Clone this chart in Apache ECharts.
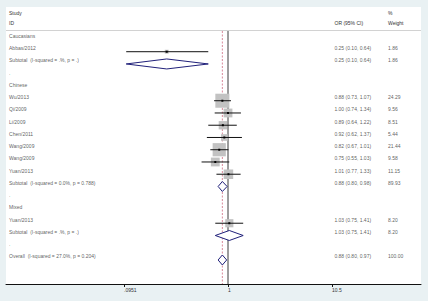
<!DOCTYPE html>
<html>
<head>
<meta charset="utf-8">
<script src="https://cdn.jsdelivr.net/npm/echarts@6/dist/echarts.min.js"></script>
<style>
  html, body { margin: 0; padding: 0; background: #e9f1f3; }
  #chart { width: 428px; height: 301px; }
</style>
</head>
<body>
<div id="chart"></div>
<script>
  // rows of the forest plot, top to bottom
  const studyLabels = [
    'Caucasians', 'Abbas/2012', 'Subtotal  (I-squared = .%, p = .)', '.',
    'Chinese', 'Wu/2013', 'Qi/2009', 'Li/2009', 'Chen/2011', 'Wang/2009', 'Wang/2009', 'Yuan/2013',
    'Subtotal  (I-squared = 0.0%, p = 0.788)', '.',
    'Mixed', 'Yuan/2013', 'Subtotal  (I-squared = .%, p = .)', '.',
    'Overall  (I-squared = 27.0%, p = 0.204)'
  ];
  const rowKinds = [
    'group', 'study', 'pooled', 'blank',
    'group', 'study', 'study', 'study', 'study', 'study', 'study', 'study', 'pooled', 'blank',
    'group', 'study', 'pooled', 'blank',
    'pooled'
  ];
  const orValues = [null, 0.25, 0.25, null, null, 0.88, 1.00, 0.89, 0.92, 0.82, 0.75, 1.01, 0.88, null, null, 1.03, 1.03, null, 0.88];
  const ciLower  = [null, 0.10, 0.10, null, null, 0.73, 0.74, 0.64, 0.62, 0.67, 0.55, 0.77, 0.80, null, null, 0.75, 0.75, null, 0.80];
  const ciUpper  = [null, 0.64, 0.64, null, null, 1.07, 1.34, 1.22, 1.37, 1.01, 1.03, 1.33, 0.98, null, null, 1.41, 1.41, null, 0.97];
  const weights  = [null, 1.86, 1.86, null, null, 24.29, 9.56, 8.51, 5.44, 21.44, 9.58, 11.15, 89.93, null, null, 8.20, 8.20, null, 100.00];
  const tickValues = [0.0951, 1, 10.5];
  const tickLabels = ['.0951', '1', '10.5'];

  const FONT = 'Liberation Sans';
  const lg = Math.log10;
  const overallOR = orValues[orValues.length - 1];

  // x is in log10(OR) units, y is the row index
  const xMin = -2.181, xMax = 1.896;
  const yMin = -2.65, yMax = 19.96;
  const lineTop = -0.69;
  const colLabel = lg(0.00706), colOR = lg(11.1), colWeight = lg(37.3);

  const studyData = [], pooledData = [], textData = [];
  studyLabels.forEach(function (name, i) {
    textData.push([colLabel, i, name]);
    if (orValues[i] == null) return;
    const row = [lg(orValues[i]), i, lg(ciLower[i]), lg(ciUpper[i]), weights[i]];
    if (rowKinds[i] === 'study') studyData.push(row); else pooledData.push(row);
    textData.push([colOR, i, orValues[i].toFixed(2) + ' (' + ciLower[i].toFixed(2) + ', ' + ciUpper[i].toFixed(2) + ')']);
    textData.push([colWeight, i, weights[i].toFixed(2)]);
  });

  const chart = echarts.init(document.getElementById('chart'), null, {renderer: 'svg'});
  chart.setOption({
    animation: false,
    backgroundColor: '#e9f1f3',
    grid: {left: 6, right: 7, top: 7, bottom: 17, show: true, backgroundColor: '#fff', borderWidth: 0},
    xAxis: {
      type: 'value', min: xMin, max: xMax,
      splitLine: {show: false},
      axisLine: {onZero: false, lineStyle: {color: '#111', width: 1}},
      axisTick: {customValues: tickValues.map(lg), length: 3, lineStyle: {color: '#111'}},
      axisLabel: {
        customValues: tickValues.map(lg), fontSize: 5, fontFamily: FONT, color: '#333', margin: 3, align: 'left',
        formatter: function (v) {
          const i = tickValues.findIndex(function (t) { return Math.abs(lg(t) - v) < 1e-6; });
          return i >= 0 ? tickLabels[i] : '';
        }
      }
    },
    yAxis: {type: 'value', show: false, inverse: true, min: yMin, max: yMax},
    graphic: [
      {type: 'line', shape: {x1: 6, y1: 30.5, x2: 421, y2: 30.5}, style: {stroke: '#d2d2d2', lineWidth: 1}},
      {type: 'text', x: 9, y: 13.3, style: {text: 'Study', fontSize: 5, fontFamily: FONT, fill: '#333', verticalAlign: 'middle'}},
      {type: 'text', x: 9, y: 22.7, style: {text: 'ID', fontSize: 5, fontFamily: FONT, fill: '#333', verticalAlign: 'middle'}},
      {type: 'text', x: 334.5, y: 22.7, style: {text: 'OR (95% CI)', fontSize: 5, fontFamily: FONT, fill: '#333', verticalAlign: 'middle'}},
      {type: 'text', x: 388, y: 13.3, style: {text: '%', fontSize: 5, fontFamily: FONT, fill: '#333', verticalAlign: 'middle'}},
      {type: 'text', x: 388, y: 22.7, style: {text: 'Weight', fontSize: 5, fontFamily: FONT, fill: '#333', verticalAlign: 'middle'}}
    ],
    series: [
      {
        // line of no effect
        type: 'line', z: 1, symbol: 'none', silent: true,
        data: [[0, lineTop], [0, yMax]],
        lineStyle: {color: '#3a3a3a', width: 1}
      },
      {
        // overall estimate
        type: 'line', z: 1, symbol: 'none', silent: true,
        data: [[lg(overallOR), lineTop], [lg(overallOR), yMax]],
        lineStyle: {color: '#d98a9a', width: 1, type: [2, 1.5]}
      },
      {
        type: 'custom', z: 3,
        data: studyData,
        encode: {x: 0, y: 1},
        renderItem: function (params, api) {
          const c = api.coord([api.value(0), api.value(1)]);
          const l = api.coord([api.value(2), api.value(1)]);
          const h = api.coord([api.value(3), api.value(1)]);
          const s = 2.85 * Math.sqrt(api.value(4));
          return {type: 'group', children: [
            {type: 'rect', shape: {x: c[0] - s / 2, y: c[1] - s / 2, width: s, height: s}, style: {fill: '#c2c2c2'}},
            {type: 'line', shape: {x1: l[0], y1: c[1], x2: h[0], y2: c[1]}, style: {stroke: '#111', lineWidth: 1}},
            {type: 'rect', shape: {x: c[0] - 1, y: c[1] - 1, width: 2, height: 2}, style: {fill: '#000'}}
          ]};
        }
      },
      {
        type: 'custom', z: 3,
        data: pooledData,
        encode: {x: 0, y: 1},
        renderItem: function (params, api) {
          const c = api.coord([api.value(0), api.value(1)]);
          const l = api.coord([api.value(2), api.value(1)]);
          const h = api.coord([api.value(3), api.value(1)]);
          return {type: 'polygon', shape: {points: [[l[0], c[1]], [c[0], c[1] - 5], [h[0], c[1]], [c[0], c[1] + 5]]},
            style: {fill: '#fff', stroke: '#20207a', lineWidth: 1}};
        }
      },
      {
        type: 'scatter', z: 4, symbolSize: 0, silent: true,
        data: textData,
        label: {
          show: true, position: 'right', distance: 0, offset: [0, -3.5],
          fontSize: 5, fontFamily: FONT, color: '#333',
          formatter: function (p) { return p.data[2]; }
        }
      }
    ]
  });
</script>
</body>
</html>
